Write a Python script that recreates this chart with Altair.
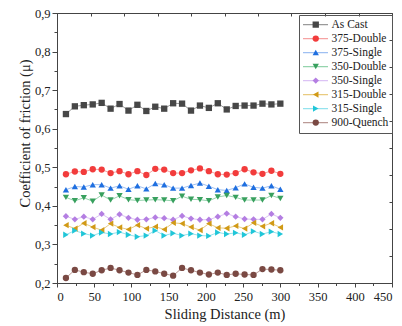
import altair as alt
import pandas as pd

series_names = ["As Cast", "375-Double", "375-Single", "350-Double",
                "350-Single", "315-Double", "315-Single", "900-Quench"]
marker_colors = ["#474747", "#f23c3c", "#1f6fe0", "#38a05e",
                 "#b47ee2", "#d19a16", "#20c6d8", "#7a4943"]
line_colors = ["#9a9a9a", "#f6a3a3", "#9fc0f2", "#95d4ad",
               "#dcc3f5", "#e9cb80", "#95e3ee", "#bb9a96"]
shapes = ["square", "circle", "triangle-up", "triangle-down",
          "diamond", "triangle-left", "triangle-right", "circle"]

distance = [12, 24, 36, 48, 60, 72, 84, 96, 108, 120, 132, 144, 156,
            168, 180, 192, 204, 216, 228, 240, 252, 264, 276, 288, 300]

as_cast = [0.638, 0.658, 0.661, 0.663, 0.667, 0.652, 0.664, 0.647, 0.662,
           0.646, 0.657, 0.652, 0.666, 0.665, 0.647, 0.660, 0.654, 0.666,
           0.650, 0.659, 0.660, 0.660, 0.665, 0.663, 0.665]
d375 = [0.482, 0.489, 0.488, 0.495, 0.494, 0.485, 0.490, 0.482, 0.490,
        0.480, 0.496, 0.494, 0.485, 0.485, 0.492, 0.497, 0.490, 0.482,
        0.481, 0.485, 0.495, 0.487, 0.483, 0.491, 0.483]
s375 = [0.442, 0.450, 0.449, 0.455, 0.455, 0.446, 0.452, 0.443, 0.452,
        0.444, 0.458, 0.455, 0.446, 0.446, 0.453, 0.459, 0.451, 0.442,
        0.440, 0.447, 0.457, 0.448, 0.446, 0.452, 0.443]
d350 = [0.422, 0.413, 0.421, 0.412, 0.428, 0.415, 0.426, 0.416, 0.414,
        0.415, 0.416, 0.415, 0.413, 0.425, 0.417, 0.416, 0.413, 0.423,
        0.427, 0.422, 0.415, 0.415, 0.415, 0.427, 0.419]
s350 = [0.373, 0.365, 0.372, 0.365, 0.379, 0.365, 0.378, 0.369, 0.364,
        0.365, 0.370, 0.368, 0.364, 0.374, 0.367, 0.364, 0.364, 0.372,
        0.380, 0.372, 0.366, 0.365, 0.365, 0.379, 0.369]
d315 = [0.350, 0.341, 0.355, 0.345, 0.337, 0.354, 0.344, 0.339, 0.350,
        0.341, 0.346, 0.339, 0.356, 0.354, 0.345, 0.337, 0.354, 0.343,
        0.342, 0.348, 0.341, 0.356, 0.347, 0.355, 0.344]
s315 = [0.325, 0.336, 0.328, 0.323, 0.331, 0.327, 0.332, 0.325, 0.320,
        0.323, 0.336, 0.323, 0.329, 0.323, 0.328, 0.323, 0.322, 0.331,
        0.327, 0.330, 0.325, 0.334, 0.327, 0.333, 0.327]
q900 = [0.213, 0.234, 0.228, 0.224, 0.233, 0.239, 0.233, 0.227, 0.221,
        0.234, 0.230, 0.224, 0.219, 0.239, 0.233, 0.227, 0.222, 0.227,
        0.221, 0.224, 0.222, 0.221, 0.236, 0.235, 0.233]

x_major = [0, 50, 100, 150, 200, 250, 300, 350, 400, 450]
x_minor = [25, 75, 125, 175, 225, 275, 325, 375, 425]
y_major = [0.2, 0.3, 0.4, 0.5, 0.6, 0.7, 0.8, 0.9]
y_minor = [0.25, 0.35, 0.45, 0.55, 0.65, 0.75, 0.85]
x_mirror = [0, 45, 90, 135, 180, 225, 270, 315, 360, 405, 450]
y_mirror = [0.2, 0.27, 0.34, 0.41, 0.48, 0.55, 0.62, 0.69, 0.76, 0.83, 0.9]

# separate key for line strokes so its (label-less) legend is not merged
line_keys = [n + " line" for n in series_names]

all_values = [as_cast, d375, s375, d350, s350, d315, s315, q900]
rows = []
for name, lkey, vals in zip(series_names, line_keys, all_values):
    for xv, yv in zip(distance, vals):
        rows.append({"series": name, "line_series": lkey, "x": xv, "y": yv})
df = pd.DataFrame(rows)

FONT = "Liberation Serif, Times New Roman, DejaVu Serif, serif"
AX = "#444444"
TXT = "#222222"
xs = alt.Scale(domain=[0, 450], nice=False, zero=False)
ys = alt.Scale(domain=[0.2, 0.9], nice=False, zero=False)

base = alt.Chart(df)

lines = base.mark_line(strokeWidth=1).encode(
    x=alt.X("x:Q", scale=xs, axis=alt.Axis(
        orient="bottom", values=x_major, format="d", title="Sliding Distance (m)",
        tickSize=4, labelPadding=3, labelFontSize=12.5, labelFont=FONT,
        labelColor=TXT, titleFont=FONT, titleFontSize=14.5, titleFontWeight="normal",
        titleColor=TXT, titleY=31, titleBaseline="middle", grid=False,
        domainColor=AX, tickColor=AX)),
    y=alt.Y("y:Q", scale=ys, axis=alt.Axis(
        orient="left", values=y_major,
        labelExpr="replace(format(datum.value, '.1f'), '.', ',')",
        title="Coefficient of friction (μ)", tickSize=5, labelPadding=2,
        labelFontSize=12.5, labelFont=FONT, labelColor=TXT, titleFont=FONT,
        titleFontSize=14.5, titleFontWeight="normal", titleColor=TXT,
        titleX=-32, titleY=120, titleAngle=270, titleAlign="center",
        titleBaseline="middle", grid=False, domainColor=AX, tickColor=AX)),
    stroke=alt.Stroke("line_series:N", sort=line_keys,
                      scale=alt.Scale(domain=line_keys, range=line_colors),
                      legend=alt.Legend(orient="none", legendX=242, legendY=2,
                                        title=None, symbolType="stroke",
                                        symbolSize=625, symbolStrokeWidth=1.2,
                                        padding=3, clipHeight=13.2, rowPadding=0,
                                        labelExpr="''", labelColor="transparent",
                                        labelFontSize=11.5, labelFont=FONT)),
)

leg = dict(orient="none", legendX=242, legendY=2, title=None, padding=3,
           clipHeight=13.2, rowPadding=0, symbolOffset=8, labelOffset=10,
           labelFontSize=11.5, labelFont=FONT, labelColor=TXT,
           labelFontWeight="normal", strokeColor="#555", symbolSize=40)

points = base.mark_point(filled=True, size=40, opacity=1, strokeWidth=0).encode(
    x=alt.X("x:Q", scale=xs, axis=None),
    y=alt.Y("y:Q", scale=ys, axis=None),
    color=alt.Color("series:N", sort=series_names,
                    scale=alt.Scale(domain=series_names, range=marker_colors),
                    legend=alt.Legend(**leg)),
    shape=alt.Shape("series:N", sort=series_names,
                    scale=alt.Scale(domain=series_names, range=shapes),
                    legend=alt.Legend(**leg)),
)

minor = base.mark_point(opacity=0).encode(
    x=alt.X("x:Q", scale=xs, axis=alt.Axis(
        orient="bottom", values=x_minor, labels=False, domain=False, title=None,
        tickSize=2.5, grid=False, tickColor=AX)),
    y=alt.Y("y:Q", scale=ys, axis=alt.Axis(
        orient="left", values=y_minor, labels=False, domain=False, title=None,
        tickSize=3, grid=False, tickColor=AX)),
)

mirror = base.mark_point(opacity=0).encode(
    x=alt.X("x:Q", scale=xs, axis=alt.Axis(
        orient="top", values=x_mirror, labels=False, domain=False, title=None,
        tickSize=3, offset=-3, grid=False, tickColor=AX)),
    y=alt.Y("y:Q", scale=ys, axis=alt.Axis(
        orient="right", values=y_mirror, labels=False, domain=False, title=None,
        tickSize=3, offset=-3, grid=False, tickColor=AX)),
)

chart = alt.layer(lines, points, minor, mirror).resolve_axis(
    x="independent", y="independent"
).properties(
    width=335, height=270,
    autosize=alt.AutoSizeParams(type="none"),
    padding={"left": 49, "top": 5, "right": 2, "bottom": 40},
).configure(
    font=FONT
).configure_view(
    stroke=AX, strokeWidth=1
)

chart.save("out.html", embed_options={"renderer": "svg", "actions": False})
